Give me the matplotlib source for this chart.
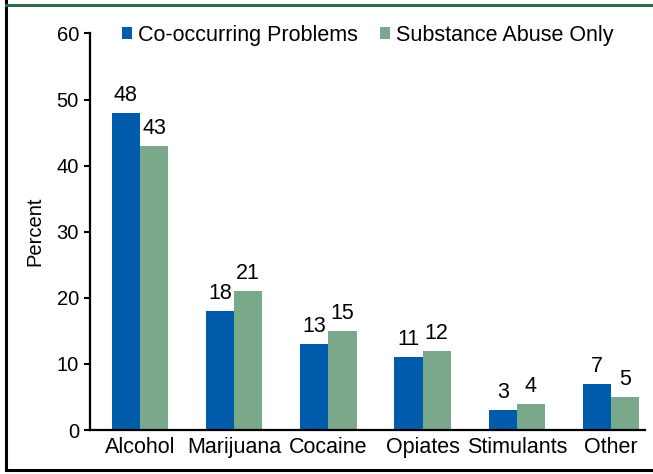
import numpy as np
import matplotlib.pyplot as plt
from matplotlib.lines import Line2D

plt.rcParams['font.family'] = ['Liberation Sans', 'DejaVu Sans']

categories = ["Alcohol", "Marijuana", "Cocaine", "Opiates", "Stimulants", "Other"]
co_occurring = [48, 18, 13, 11, 3, 7]
substance_only = [43, 21, 15, 12, 4, 5]
series_names = ["Co-occurring Problems", "Substance Abuse Only"]

BLUE = "#005baa"
GREEN = "#7aa88a"

fig = plt.figure(figsize=(6.53, 4.74), dpi=100)
ax = fig.add_axes([90 / 653, 44 / 474, 555 / 653, 396.6 / 474])

x = np.arange(len(categories))
w = 0.30
b1 = ax.bar(x - w / 2, co_occurring, w, color=BLUE, label=series_names[0])
b2 = ax.bar(x + w / 2, substance_only, w, color=GREEN, label=series_names[1])

for bars, vals in [(b1, co_occurring), (b2, substance_only)]:
    for bar, v in zip(bars, vals):
        ax.annotate(str(v), (bar.get_x() + bar.get_width() / 2, bar.get_height()),
                    xytext=(0, 5), textcoords="offset points",
                    ha="center", va="bottom", fontsize=15.5)

ax.set_xlim(-0.53, 5.36)
ax.set_ylim(0, 60)
ax.set_yticks(range(0, 61, 10))
ax.set_xticks(x)
ax.set_xticklabels(categories, fontsize=15.5)
ax.tick_params(axis="x", length=0, pad=5)
ax.tick_params(axis="y", length=4, width=1.5, labelsize=14.5, pad=4)
ax.set_ylabel("Percent", fontsize=14.5, labelpad=9)

for s in ["top", "right"]:
    ax.spines[s].set_visible(False)
for s in ["left", "bottom"]:
    ax.spines[s].set_linewidth(1.6)

ax.legend(loc="center left", bbox_to_anchor=(0.0577, 0.995), frameon=False,
          ncol=2, fontsize=15.5, handlelength=0.47, handleheight=0.47,
          handletextpad=0.28, columnspacing=1.0, borderpad=0, borderaxespad=0)

# outer frame
fig.add_artist(Line2D([6 / 653, 6 / 653], [0.008, 1.0], color="black", lw=2.2))
fig.add_artist(Line2D([6 / 653, 1.0], [0.008, 0.008], color="black", lw=2.2))
fig.add_artist(Line2D([6 / 653, 1.0], [0.99, 0.99], color="#2e6e46", lw=2.2))

fig.savefig("out.png", dpi=100)
